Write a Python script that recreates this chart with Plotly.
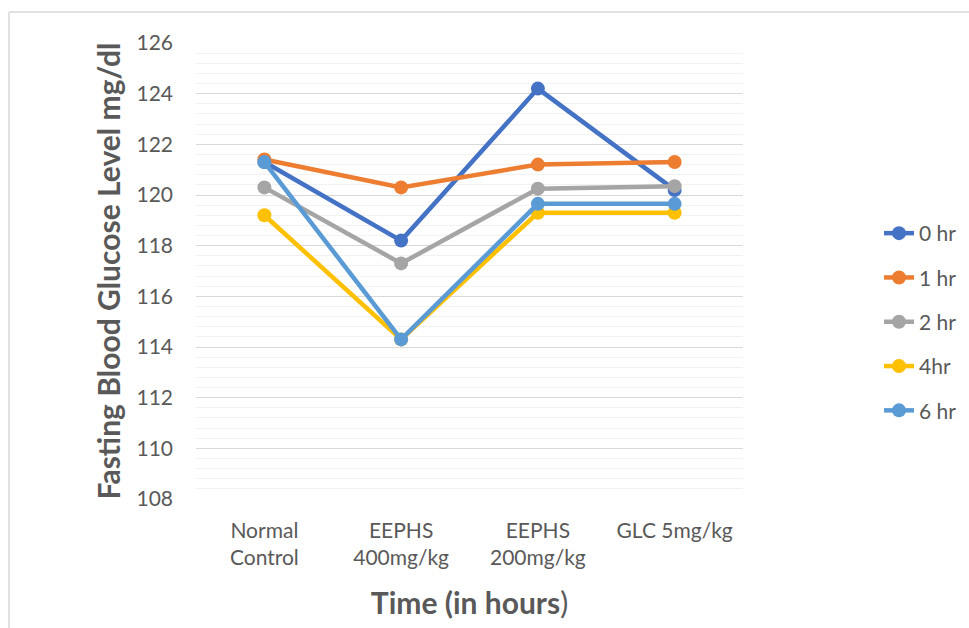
import plotly.graph_objects as go

categories = ["Normal<br>Control", "EEPHS<br>400mg/kg", "EEPHS<br>200mg/kg", "GLC 5mg/kg"]
series_names = ["0 hr", "1 hr", "2 hr", "4hr", "6 hr"]
hr0 = [121.3, 118.2, 124.2, 120.2]
hr1 = [121.4, 120.3, 121.2, 121.3]
hr2 = [120.3, 117.3, 120.25, 120.35]
hr4 = [119.2, 114.3, 119.3, 119.3]
hr6 = [121.3, 114.3, 119.65, 119.65]
colors = ["#4472C4", "#ED7D31", "#A5A5A5", "#FFC000", "#5B9BD5"]

FONT = "Lato, 'Open Sans', sans-serif"

fig = go.Figure()
for name, vals, col in zip(series_names, [hr0, hr1, hr2, hr4, hr6], colors):
    fig.add_trace(go.Scatter(
        x=categories, y=vals, name=name, mode="lines+markers",
        line=dict(color=col, width=4.5),
        marker=dict(color=col, size=14),
        legendgroup=name,
    ))

L, R, T, B = 196, 226, 43, 129
W, H = 969, 628
pw, ph = W - L - R, H - T - B

def px_x(p):
    return (p - L) / pw

def px_y(p):
    return (H - B - p) / ph

fig.update_layout(
    width=W, height=H,
    margin=dict(l=L, r=R, t=T, b=B, autoexpand=False),
    paper_bgcolor="white", plot_bgcolor="white",
    font=dict(family=FONT, size=21, color="#595959"),
    showlegend=True,
    legend=dict(
        xref="container", yref="container",
        x=879 / W, y=1 - 322 / H, xanchor="left", yanchor="middle",
        font=dict(size=21, color="#595959"),
        tracegroupgap=14, itemwidth=30,
        bgcolor="rgba(0,0,0,0)",
    ),
    xaxis=dict(
        type="category", range=[-0.5, 3.5], automargin=False,
        showgrid=False, zeroline=False, showline=False,
        ticks="", tickfont=dict(size=21, color="#595959"),
        ticklabelstandoff=17,
        title=dict(text="<b>Time (in hours</b>)", font=dict(size=30, color="#595959"), standoff=24),
    ),
    yaxis=dict(
        range=[108, 126], dtick=2, tick0=108, automargin=False,
        showgrid=True, gridcolor="#D9D9D9", gridwidth=1.2,
        zeroline=False, showline=False, ticks="",
        tickfont=dict(size=21, color="#595959"),
        ticklabelstandoff=22,
        minor=dict(dtick=0.4, tick0=108, showgrid=True, gridcolor="#F2F2F2", gridwidth=1.2),
        title=dict(text="<b>Fasting Blood Glucose Level mg/dl</b>", font=dict(size=30, color="#595959"), standoff=6),
    ),
    shapes=[
        dict(type="line", xref="paper", yref="paper", x0=px_x(9), x1=px_x(969), y0=px_y(12), y1=px_y(12),
             line=dict(color="#D9D9D9", width=1.5)),
        dict(type="line", xref="paper", yref="paper", x0=px_x(9), x1=px_x(9), y0=px_y(12), y1=px_y(628),
             line=dict(color="#D9D9D9", width=1.5)),
    ],
)

fig.write_html("out.html")
